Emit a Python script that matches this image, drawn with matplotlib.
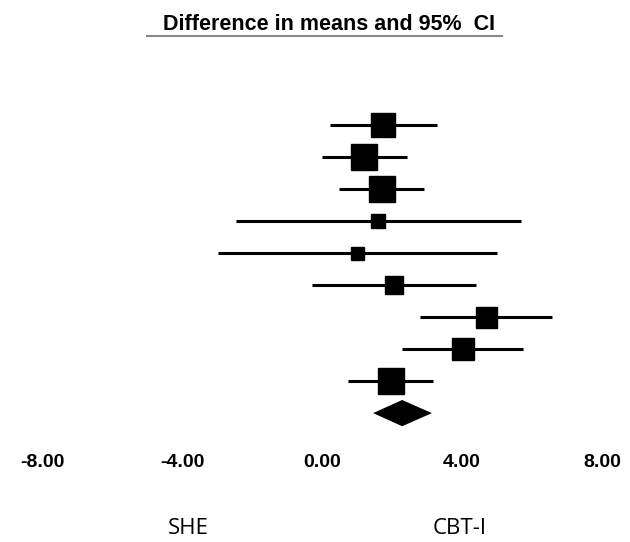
import matplotlib
matplotlib.use('Agg')
from matplotlib import pyplot as plt

# study rows, top to bottom
est = [1.74, 1.20, 1.71, 1.60, 1.00, 2.06, 4.69, 4.03, 1.97]
lo = [0.23, 0.00, 0.49, -2.46, -2.97, -0.29, 2.80, 2.29, 0.75]
hi = [3.29, 2.43, 2.91, 5.69, 5.00, 4.40, 6.57, 5.74, 3.18]
box = [24, 27, 26, 14, 13, 18, 21, 22, 26]  # square side, px

# pooled estimate
pool_est = 2.29
pool_lo = 1.46
pool_hi = 3.14

ticks = [-8, -4, 0, 4, 8]
tick_labels = ['-8.00', '-4.00', '0.00', '4.00', '8.00']

plt.rcParams['font.family'] = ['Liberation Sans', 'DejaVu Sans']

fig = plt.figure(figsize=(6.3, 5.42), dpi=100)
ax = fig.add_axes([24.5 / 630, 102 / 542, 595 / 630, 395 / 542])

for i in range(len(est)):
    y = i + 1
    ax.plot([lo[i], hi[i]], [y, y], color='black', lw=2.2, solid_capstyle='butt')
    ax.plot(est[i], y, 's', color='black', ms=box[i] * 0.72)

k = len(est) + 1
h = 0.41
ax.fill([pool_lo, pool_est, pool_hi, pool_est], [k, k - h, k, k + h], color='black', lw=0)

ax.set_xlim(-8.5, 8.5)
ax.set_ylim(10.84, -1.5)
ax.set_yticks([])
ax.set_xticks(ticks)
ax.set_xticklabels(tick_labels, fontsize=14, fontweight='bold')
ax.tick_params(axis='x', length=0, pad=10)
for s in ax.spines.values():
    s.set_visible(False)

# title with underline
ax.text(0.2, -2.15, 'Difference in means and 95%  CI', ha='center', va='center',
        fontsize=15.5, fontweight='bold', clip_on=False)
ax.plot([-5.0, 5.14], [-1.78, -1.78], color='#888888', lw=1.5, clip_on=False)

ax.text(-3.83, 13.62, 'SHE', ha='center', va='center', fontsize=16,
        family=['Open Sans', 'DejaVu Sans'], clip_on=False)
ax.text(3.94, 13.62, 'CBT-I', ha='center', va='center', fontsize=16,
        family=['Open Sans', 'DejaVu Sans'], clip_on=False)

fig.savefig('out.png', dpi=100)
